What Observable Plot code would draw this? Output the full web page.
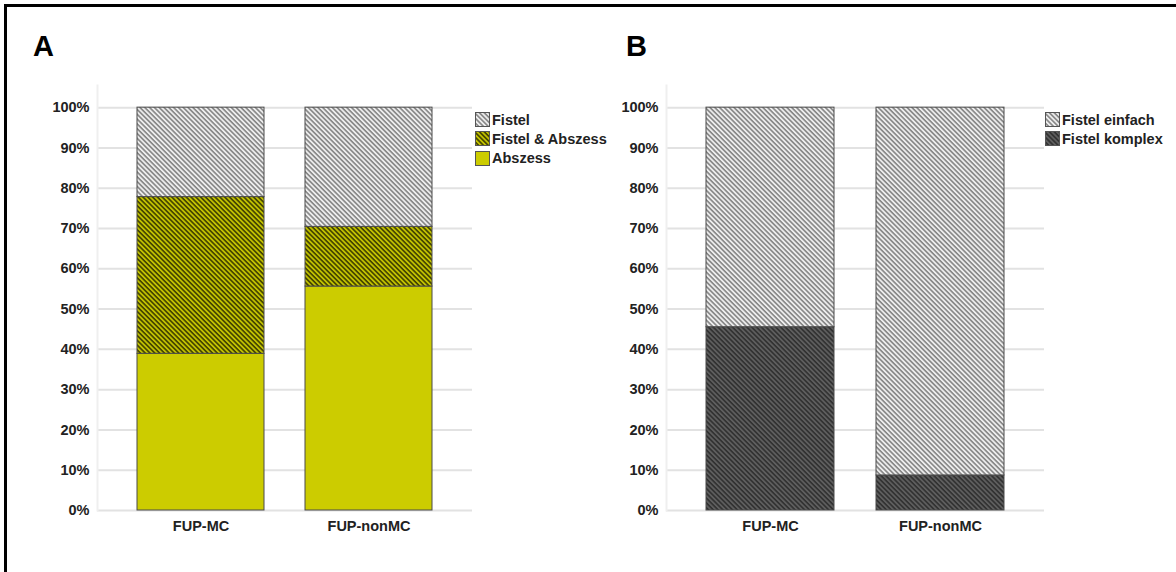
<!DOCTYPE html>
<html>
<head>
<meta charset="utf-8">
<script src="https://cdn.jsdelivr.net/npm/d3@7"></script>
<script src="https://cdn.jsdelivr.net/npm/@observablehq/plot@0.6"></script>
<style>
  html, body { margin: 0; padding: 0; background: #fff; }
  body { width: 1176px; height: 572px; position: relative; overflow: hidden;
         font-family: "Liberation Sans", Arial, sans-serif; font-weight: bold; color: #222; }
  #border { position: absolute; left: 4px; top: 4px; width: 1200px; height: 600px;
            border-top: 3px solid #000; border-left: 3px solid #000; }
  .panel { position: absolute; top: 0; }
  .title { position: absolute; font-size: 29px; font-weight: bold; color: #000; line-height: 1; }
  .legend { position: absolute; font-size: 14.5px; color: #222; }
  .legend .row { display: flex; align-items: center; height: 19.3px; }
  .legend svg { margin-right: 2px; }
</style>
</head>
<body>
<svg width="0" height="0" style="position:absolute">
  <defs>
    <pattern id="hatchLight" patternUnits="userSpaceOnUse" width="3.4" height="3.4" patternTransform="rotate(45)">
      <rect width="3.4" height="3.4" fill="#ededed"></rect>
      <rect width="3.4" height="1.6" fill="#858585"></rect>
    </pattern>
    <pattern id="hatchOlive" patternUnits="userSpaceOnUse" width="3.4" height="3.4" patternTransform="rotate(45)">
      <rect width="3.4" height="3.4" fill="#c2c200"></rect>
      <rect width="3.4" height="1.6" fill="#404000"></rect>
    </pattern>
    <pattern id="hatchDark" patternUnits="userSpaceOnUse" width="3.4" height="3.4" patternTransform="rotate(45)">
      <rect width="3.4" height="3.4" fill="#5e5e5e"></rect>
      <rect width="3.4" height="1.6" fill="#303030"></rect>
    </pattern>
  </defs>
</svg>
<div id="border"></div>
<div class="title" style="left:33px; top:32px;">A</div>
<div class="title" style="left:626px; top:32px;">B</div>
<div id="plotA" class="panel" style="left:0px;"></div>
<div id="plotB" class="panel" style="left:570px;"></div>
<div id="legendA" class="legend" style="left:475px; top:110px;"></div>
<div id="legendB" class="legend" style="left:1045px; top:110px;"></div>
<script>
// ---- data ----
const groups = ["FUP-MC", "FUP-nonMC"];
const yTicks = [0, 10, 20, 30, 40, 50, 60, 70, 80, 90, 100];

// Panel A (percent)
const seriesA = ["Abszess", "Fistel & Abszess", "Fistel"];
const abszess = [38.9, 55.6];
const fistelAbszess = [38.9, 14.8];
const fistel = [22.2, 29.6];
const fillsA = ["#cccc00", "url(#hatchOlive)", "url(#hatchLight)"];
const legendOrderA = ["Fistel", "Fistel & Abszess", "Abszess"];

// Panel B (percent)
const seriesB = ["Fistel komplex", "Fistel einfach"];
const komplex = [45.5, 8.7];
const einfach = [54.5, 91.3];
const fillsB = ["url(#hatchDark)", "url(#hatchLight)"];
const legendOrderB = ["Fistel einfach", "Fistel komplex"];

// ---- tables ----
const valuesA = [abszess, fistelAbszess, fistel];
const dataA = seriesA.flatMap((s, i) => groups.map((g, j) => ({group: g, series: s, value: valuesA[i][j]})));
const valuesB = [komplex, einfach];
const dataB = seriesB.flatMap((s, i) => groups.map((g, j) => ({group: g, series: s, value: valuesB[i][j]})));

function makePlot(data, series, fills, opts) {
  return Plot.plot({
    width: opts.width,
    height: 545,
    marginLeft: opts.marginLeft,
    marginRight: 0,
    marginTop: 85,
    marginBottom: 35,
    style: {fontFamily: '"Liberation Sans", Arial, sans-serif', fontSize: "14.5px", fontWeight: "bold", color: "#222", background: "transparent"},
    x: {domain: groups, paddingInner: opts.pi, paddingOuter: opts.po, label: null, tickSize: 0, tickPadding: 10},
    y: {domain: [0, 105.5], ticks: yTicks, tickFormat: d => d + "%", label: null, tickSize: 0, tickPadding: 8},
    color: {domain: series, range: fills},
    marks: [
      Plot.gridY(yTicks, {stroke: "#e2e2e2", strokeWidth: 2, strokeOpacity: 1}),
      Plot.frame({anchor: "left", stroke: "#efefef", strokeWidth: 2}),
      Plot.barY(data, Plot.stackY({
        x: "group", y: "value", fill: "series", order: series,
        stroke: "#4a4a4a", strokeWidth: 1, inset: 0
      }))
    ]
  });
}

document.getElementById("plotA").appendChild(
  makePlot(dataA, seriesA, fillsA, {width: 472, marginLeft: 97, pi: 0.243, po: 0.231}));
document.getElementById("plotB").appendChild(
  makePlot(dataB, seriesB, fillsB, {width: 474, marginLeft: 96, pi: 0.247, po: 0.235}));

function makeLegend(el, order, series, fills) {
  const node = document.getElementById(el);
  order.forEach(name => {
    const fill = fills[series.indexOf(name)];
    const row = document.createElement("div");
    row.className = "row";
    row.innerHTML = `<svg width="15" height="15"><rect x="0.5" y="0.5" width="14" height="14" fill="${fill}" stroke="#555"></rect></svg><span>${name}</span>`;
    node.appendChild(row);
  });
}
makeLegend("legendA", legendOrderA, seriesA, fillsA);
makeLegend("legendB", legendOrderB, seriesB, fillsB);
</script>
</body>
</html>
